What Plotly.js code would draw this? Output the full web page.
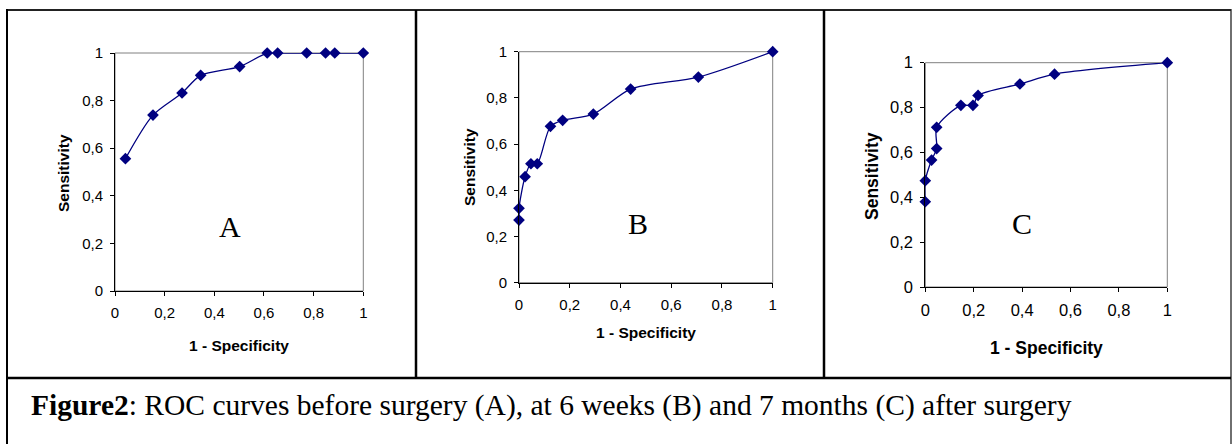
<!DOCTYPE html>
<html>
<head>
<meta charset="utf-8">
<script src="https://cdn.plot.ly/plotly-3.0.1.min.js"></script>
<style>
html,body{margin:0;padding:0;background:#fff;}
#chart{width:1232px;height:444px;}
</style>
</head>
<body>
<div id="chart"></div>
<script>
// ---- data ----
const panelA_x = [0.042, 0.153, 0.270, 0.345, 0.502, 0.613, 0.655, 0.772, 0.848, 0.885, 1.0];
const panelA_y = [0.556, 0.739, 0.832, 0.906, 0.943, 1.0, 1.0, 1.0, 1.0, 1.0, 1.0];
const panelB_x = [0.0, 0.0, 0.024, 0.047, 0.072, 0.124, 0.172, 0.293, 0.440, 0.707, 1.0];
const panelB_y = [0.271, 0.322, 0.459, 0.515, 0.515, 0.677, 0.703, 0.730, 0.838, 0.890, 1.0];
const panelC_x = [0.0, 0.0, 0.026, 0.047, 0.047, 0.147, 0.197, 0.218, 0.391, 0.534, 1.0];
const panelC_y = [0.380, 0.474, 0.566, 0.617, 0.712, 0.810, 0.810, 0.854, 0.905, 0.949, 1.0];
const tickValues = [0, 0.2, 0.4, 0.6, 0.8, 1];
const panelLetters = ["A", "B", "C"];
const xTitle = "1 - Specificity";
const yTitle = "Sensitivity";
const captionBold = "Figure2";
const captionText = ": ROC curves before surgery (A), at 6 weeks (B) and 7 months (C) after surgery";

// ---- layout helpers ----
const W = 1232, H = 444;
const px = x => x / W;
const py = y => 1 - y / H;
const NAVY = "#000080";
const SANS = "Liberation Sans, Arial, sans-serif";
const SERIF = "Liberation Serif, Times New Roman, serif";

function trace(x, y, xa, ya) {
  return {
    x: x, y: y, xaxis: xa, yaxis: ya, type: "scatter", mode: "lines+markers",
    line: {color: NAVY, width: 1.3, shape: "spline", smoothing: 0.8},
    marker: {symbol: "diamond", size: 9, color: NAVY},
    cliponaxis: false, hoverinfo: "x+y", showlegend: false
  };
}

function axis(domain, anchor, fs, standoff) {
  return {
    domain: domain, anchor: anchor, range: [0, 1], tickvals: tickValues,
    ticks: "outside", ticklen: 4, tickcolor: "#000", tickwidth: 1,
    showline: true, linecolor: "#000", linewidth: 1,
    showgrid: false, zeroline: false, fixedrange: true,
    tickfont: {family: SANS, size: fs, color: "#000"},
    ticklabelstandoff: standoff
  };
}

// panel geometry (pixel positions of value 0 and 1 on each axis)
const P = [
  {x0: 115, x1: 363.3, y0: 291, y1: 53, fs: 15, tfs: 15.5,
   yt: [63, 173], xt: [239, 345], letter: [230, 226]},
  {x0: 519, x1: 772.7, y0: 282.7, y1: 51.7, fs: 15, tfs: 15.5,
   yt: [469, 167], xt: [646, 332], letter: [638, 223]},
  {x0: 925.3, x1: 1167.3, y0: 287, y1: 62.7, fs: 16.5, tfs: 17.5,
   yt: [872, 176], xt: [1046, 348], letter: [1022, 223]}
];

const data = [
  trace(panelA_x, panelA_y, "x", "y"),
  trace(panelB_x, panelB_y, "x2", "y2"),
  trace(panelC_x, panelC_y, "x3", "y3")
];

const layout = {
  width: W, height: H, margin: {l: 0, r: 0, t: 0, b: 0},
  paper_bgcolor: "#fff", plot_bgcolor: "rgba(0,0,0,0)",
  separators: ",.", showlegend: false,
  annotations: [], shapes: []
};

const names = [["xaxis", "yaxis", "x", "y"], ["xaxis2", "yaxis2", "x2", "y2"], ["xaxis3", "yaxis3", "x3", "y3"]];
P.forEach((p, i) => {
  const [xa, ya, xr, yr] = names[i];
  layout[xa] = axis([px(p.x0), px(p.x1)], yr, p.fs, 4);
  layout[ya] = axis([py(p.y0), py(p.y1)], xr, p.fs, 4);
  // plot-area frame (top & right in grey)
  layout.shapes.push({type: "rect", xref: xr + " domain", yref: yr + " domain",
    x0: 0, x1: 1, y0: 0, y1: 1, line: {color: "#808080", width: 1}, layer: "below"});
  layout.annotations.push({xref: "paper", yref: "paper", x: px(p.yt[0]), y: py(p.yt[1]),
    text: "<b>" + yTitle + "</b>", textangle: -90, showarrow: false,
    xanchor: "center", yanchor: "middle", font: {family: SANS, size: p.tfs, color: "#000"}});
  layout.annotations.push({xref: "paper", yref: "paper", x: px(p.xt[0]), y: py(p.xt[1]),
    text: "<b>" + xTitle + "</b>", showarrow: false,
    xanchor: "center", yanchor: "middle", font: {family: SANS, size: p.tfs, color: "#000"}});
  layout.annotations.push({xref: "paper", yref: "paper", x: px(p.letter[0]), y: py(p.letter[1]),
    text: panelLetters[i], showarrow: false,
    xanchor: "center", yanchor: "middle", font: {family: SERIF, size: 30, color: "#000"}});
});

// caption
layout.annotations.push({xref: "paper", yref: "paper", x: px(29), y: py(405),
  text: "<b>" + captionBold + "</b>" + captionText, showarrow: false,
  xanchor: "left", yanchor: "middle", font: {family: SERIF, size: 29.5, color: "#000"}});

// table borders
function line(x0, y0, x1, y1, w, c) {
  layout.shapes.push({type: "line", xref: "paper", yref: "paper",
    x0: px(x0), y0: py(y0), x1: px(x1), y1: py(y1), line: {color: c, width: w}});
}
line(6, 10, 1231, 10, 2, "#222");      // top
line(7, 9, 7, 444, 2, "#000");         // left
line(1231, 9, 1231, 444, 1.3, "#222"); // right
line(416, 10, 416, 378, 2.5, "#000");  // divider 1
line(824, 10, 824, 378, 2.5, "#000");  // divider 2
line(6, 378, 1231, 378, 2.7, "#000");  // separator above caption

Plotly.newPlot("chart", data, layout, {staticPlot: true, displayModeBar: false});
</script>
</body>
</html>
